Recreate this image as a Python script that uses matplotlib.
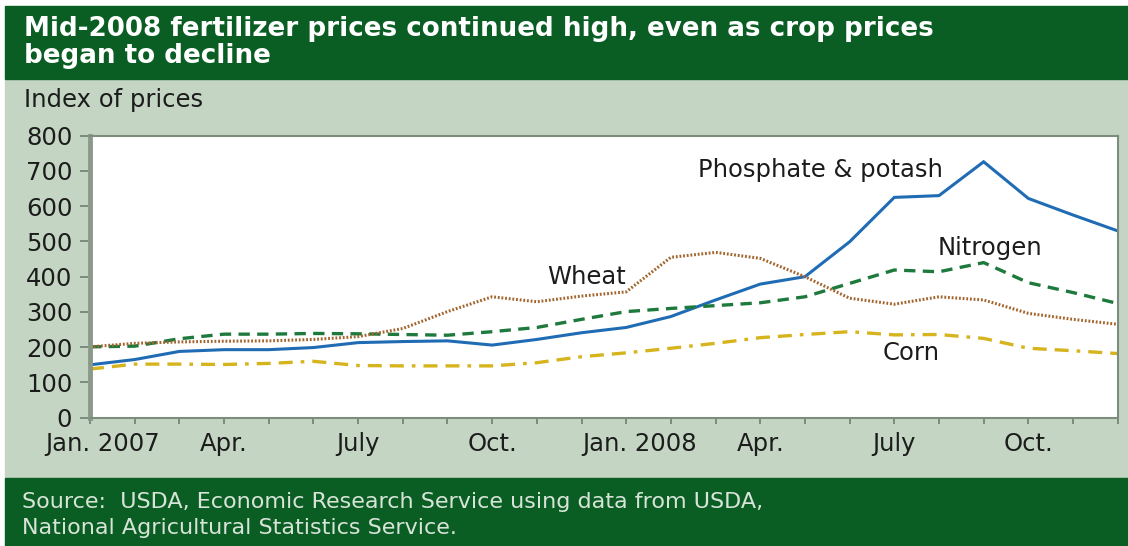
import matplotlib
matplotlib.use("Agg")  # headless backend: no display required
import matplotlib.pyplot as plt
from matplotlib.patches import Rectangle
from matplotlib.transforms import ScaledTranslation

# Monthly index of prices, Jan. 2007 .. Dec. 2008
months = ["Jan", "Feb", "Mar", "Apr", "May", "Jun", "Jul", "Aug", "Sep", "Oct", "Nov", "Dec"] * 2
phosphate_potash = [150, 165, 188, 193, 193, 199, 213, 216, 218, 206, 222, 241,
                    256, 287, 334, 379, 400, 499, 625, 630, 726, 622, 575, 530]
nitrogen = [201, 203, 224, 237, 237, 239, 238, 236, 234, 244, 256, 279,
            301, 310, 318, 326, 343, 381, 419, 414, 440, 383, 355, 324]
wheat = [201, 211, 215, 217, 218, 222, 230, 253, 301, 343, 329, 345,
         357, 455, 469, 452, 400, 339, 322, 343, 334, 296, 279, 265]
corn = [138, 152, 152, 151, 154, 160, 148, 147, 147, 147, 156, 173,
        184, 197, 211, 227, 236, 244, 235, 236, 225, 197, 190, 182]

tick_labels = ["Jan. 2007", "Apr.", "July", "Oct.", "Jan. 2008", "Apr.", "July", "Oct."]
y_ticks = [0, 100, 200, 300, 400, 500, 600, 700, 800]

DARK_GREEN = "#0a5e24"
LIGHT_BG = "#c4d6c3"
TEXT = "#1c1c1c"
FONT = "DejaVu Sans"
FS = 17.5  # chart text size

W, H = 1128, 546


def fx(px):
    return px / W


def fy(py):
    return 1 - py / H


fig = plt.figure(figsize=(W / 100, H / 100), dpi=100)
fig.patch.set_facecolor("white")

# background bands (kept behind the axes)
fig.patches.append(Rectangle((fx(5), fy(478)), 1 - fx(5), fy(80) - fy(478),
                             transform=fig.transFigure, color=LIGHT_BG, zorder=-10))
fig.patches.append(Rectangle((fx(5), fy(79)), 1 - fx(5), fy(6) - fy(79),
                             transform=fig.transFigure, color=DARK_GREEN, zorder=-10))
fig.patches.append(Rectangle((fx(5), 0), 1 - fx(5), fy(478),
                             transform=fig.transFigure, color=DARK_GREEN, zorder=-10))

fig.text(fx(24), fy(36), "Mid-2008 fertilizer prices continued high, even as crop prices",
         color="white", fontsize=18.8, fontweight="bold", family=FONT, va="baseline")
fig.text(fx(24), fy(63), "began to decline",
         color="white", fontsize=18.8, fontweight="bold", family=FONT, va="baseline")
fig.text(fx(24), fy(107.5), "Index of prices", color=TEXT, fontsize=FS,
         family=FONT, va="baseline")
fig.text(fx(22), fy(507.5), "Source:  USDA, Economic Research Service using data from USDA,",
         color="#d8e4d8", fontsize=16, family=FONT, va="baseline")
fig.text(fx(22), fy(534), "National Agricultural Statistics Service.",
         color="#d8e4d8", fontsize=16, family=FONT, va="baseline")

ax = fig.add_axes([fx(90), fy(417.7), fx(1117.7) - fx(90), fy(135.7) - fy(417.7)])
ax.set_zorder(1)
ax.set_facecolor("white")

x = list(range(len(months)))
ax.plot(x, phosphate_potash, color="#1f6cb4", lw=2.2, solid_joinstyle="miter")
ax.plot(x, nitrogen, color="#1e7a3c", lw=2.4, linestyle=(0, (3.4, 2.2)))
ax.plot(x, wheat, color="#a2652e", lw=2.2, linestyle=(0, (0.6, 0.6)))
ax.plot(x, corn, color="#d6b41e", lw=2.4, linestyle=(0, (4.2, 2.4, 4.2, 2.4, 1.1, 2.4)))

label_style = dict(fontsize=FS, color=TEXT, family=FONT, va="center", ha="left")
ax.text(13.6, 703, "Phosphate & potash", **label_style)
ax.text(18.98, 481, "Nitrogen", **label_style)
ax.text(10.23, 399, "Wheat", **label_style)
ax.text(17.75, 184, "Corn", **label_style)

ax.set_xlim(0, len(months) - 1)
ax.set_ylim(0, 800)
ax.set_yticks(y_ticks)
ax.set_xticks(x[::3])
ax.set_xticklabels(tick_labels)
ax.set_xticks(x, minor=True)

for side in ["top", "right", "bottom"]:
    ax.spines[side].set_color("#7d8d7d")
    ax.spines[side].set_linewidth(1.5)
ax.spines["left"].set_color("#8a9a8a")
ax.spines["left"].set_linewidth(3.5)

ax.tick_params(axis="y", length=7.2, width=1.2, color="#6f7f6f", pad=5.5,
               labelsize=FS, labelcolor=TEXT)
ax.tick_params(axis="x", which="both", length=4.3, width=1.2, color="#6f7f6f", pad=6.0,
               labelsize=FS, labelcolor=TEXT)
for lab in ax.get_xticklabels() + ax.get_yticklabels():
    lab.set_family(FONT)

# "Jan." labels sit slightly right of their ticks in the original
shift = ScaledTranslation(13 / 100, 0, fig.dpi_scale_trans)
for lab in ax.get_xticklabels():
    if lab.get_text().startswith("Jan."):
        lab.set_transform(lab.get_transform() + shift)

fig.savefig("out.png", dpi=100)
